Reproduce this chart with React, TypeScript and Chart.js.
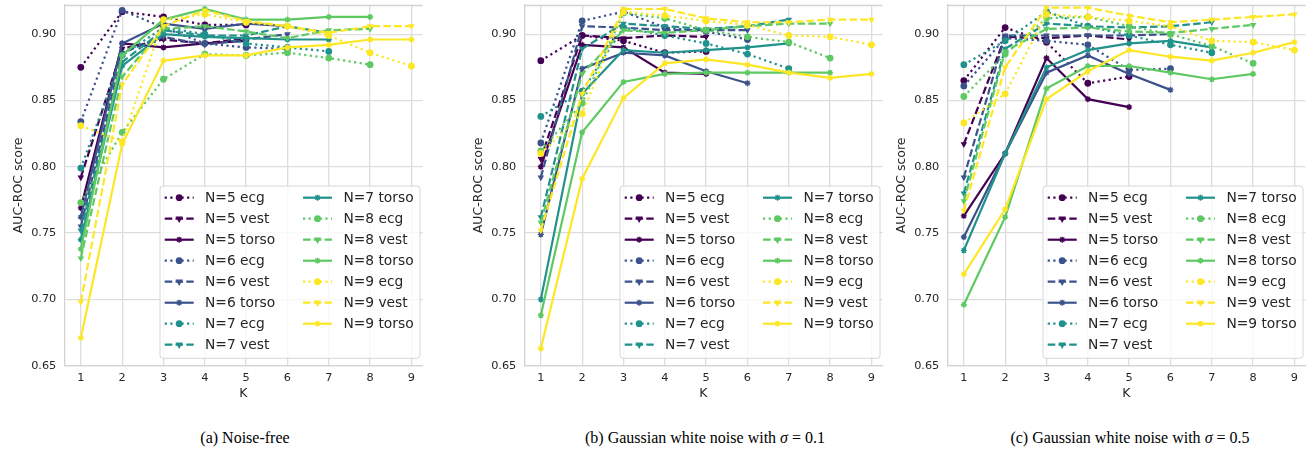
import React, { useEffect, useRef } from 'react';
import { Chart, registerables } from 'chart.js';

Chart.register(...registerables);

// ---------- data ----------
const K_VALUES = [1, 2, 3, 4, 5, 6, 7, 8, 9];
const X_TICKS = [1, 2, 3, 4, 5, 6, 7, 8, 9];
const Y_TICKS = [0.65, 0.7, 0.75, 0.8, 0.85, 0.9];
const N_VALUES = [5, 6, 7, 8, 9];
const SENSORS = ['ecg', 'vest', 'torso'];
const COLORS = ['#440154', '#3b528b', '#21918c', '#5ec962', '#fde725'];

// (a) Noise-free — one row per N (5..9), values for K = 1..N
const A_ECG = [
  [0.875, 0.917, 0.913, 0.907, 0.907],
  [0.834, 0.918, 0.905, 0.893, 0.890, 0.889],
  [0.799, 0.884, 0.905, 0.900, 0.893, 0.890, 0.887],
  [0.773, 0.826, 0.866, 0.885, 0.884, 0.886, 0.882, 0.877],
  [0.831, 0.819, 0.911, 0.915, 0.909, 0.906, 0.899, 0.886, 0.876],
];
const A_VEST = [
  [0.792, 0.889, 0.896, 0.893, 0.897],
  [0.755, 0.886, 0.898, 0.892, 0.896, 0.900],
  [0.752, 0.879, 0.903, 0.899, 0.899, 0.906, 0.901],
  [0.731, 0.868, 0.904, 0.906, 0.902, 0.897, 0.903, 0.904],
  [0.698, 0.862, 0.906, 0.918, 0.910, 0.906, 0.901, 0.906, 0.906],
];
const A_TORSO = [
  [0.769, 0.893, 0.890, 0.893, 0.895],
  [0.762, 0.893, 0.908, 0.904, 0.908, 0.906],
  [0.745, 0.876, 0.900, 0.898, 0.897, 0.896, 0.896],
  [0.738, 0.884, 0.911, 0.919, 0.911, 0.911, 0.913, 0.913],
  [0.671, 0.817, 0.880, 0.884, 0.884, 0.890, 0.892, 0.896, 0.896],
];

// (b) sigma = 0.1
const B_ECG = [
  [0.880, 0.899, 0.895, 0.886, 0.887],
  [0.818, 0.910, 0.917, 0.905, 0.902, 0.896],
  [0.838, 0.857, 0.905, 0.899, 0.893, 0.885, 0.874],
  [0.812, 0.848, 0.916, 0.912, 0.903, 0.898, 0.894, 0.882],
  [0.810, 0.840, 0.917, 0.914, 0.910, 0.907, 0.899, 0.898, 0.892],
];
const B_VEST = [
  [0.806, 0.899, 0.897, 0.899, 0.898],
  [0.792, 0.906, 0.905, 0.903, 0.903, 0.903],
  [0.762, 0.889, 0.908, 0.906, 0.904, 0.906, 0.911],
  [0.758, 0.870, 0.903, 0.901, 0.903, 0.906, 0.908, 0.908],
  [0.752, 0.855, 0.919, 0.919, 0.912, 0.909, 0.909, 0.911, 0.911],
];
const B_TORSO = [
  [0.800, 0.892, 0.890, 0.871, 0.870],
  [0.749, 0.874, 0.886, 0.884, 0.872, 0.863],
  [0.700, 0.855, 0.888, 0.886, 0.888, 0.890, 0.893],
  [0.688, 0.826, 0.864, 0.870, 0.871, 0.871, 0.871, 0.871],
  [0.663, 0.791, 0.852, 0.878, 0.881, 0.877, 0.871, 0.867, 0.870],
];

// (c) sigma = 0.5
const C_ECG = [
  [0.865, 0.905, 0.894, 0.863, 0.868],
  [0.861, 0.897, 0.895, 0.892, 0.873, 0.874],
  [0.877, 0.895, 0.917, 0.906, 0.899, 0.892, 0.886],
  [0.853, 0.885, 0.912, 0.913, 0.906, 0.900, 0.891, 0.878],
  [0.833, 0.855, 0.915, 0.913, 0.910, 0.906, 0.895, 0.894, 0.888],
];
const C_VEST = [
  [0.817, 0.898, 0.897, 0.899, 0.896],
  [0.792, 0.899, 0.899, 0.899, 0.899, 0.900],
  [0.780, 0.889, 0.908, 0.906, 0.905, 0.906, 0.909],
  [0.774, 0.887, 0.904, 0.905, 0.902, 0.901, 0.904, 0.907],
  [0.767, 0.875, 0.920, 0.920, 0.914, 0.909, 0.911, 0.913, 0.915],
];
const C_TORSO = [
  [0.763, 0.810, 0.882, 0.851, 0.845],
  [0.747, 0.810, 0.871, 0.884, 0.870, 0.858],
  [0.737, 0.810, 0.875, 0.888, 0.893, 0.895, 0.890],
  [0.696, 0.762, 0.859, 0.876, 0.876, 0.871, 0.866, 0.870],
  [0.719, 0.768, 0.851, 0.872, 0.888, 0.883, 0.880, 0.886, 0.894],
];

const CAPTIONS = [
  { text: '(a) Noise-free', sigma: null },
  { text: '(b) Gaussian white noise with ', sigma: '0.1' },
  { text: '(c) Gaussian white noise with ', sigma: '0.5' },
];

// ---------- layout ----------
const CW = 427; // Chart.js keeps ~5px on the right, so the plot ends at ~422
const CH = 410;
const AREA_LEFT = 64.3;
const AREA_TOP = 5;
const AREA_BOTTOM = 365.7;
const TEXT = '#262626';
const GRID = '#dddddd';
const SPINE = '#d2d2d2';
const FONT = "'DejaVu Sans', sans-serif";

const DASHES: Record<string, number[]> = {
  ecg: [2.2, 3.4],
  vest: [7.6, 3.2],
  torso: [],
};

function drawMarker(ctx: CanvasRenderingContext2D, sensor: string, x: number, y: number, color: string) {
  ctx.save();
  ctx.setLineDash([]);
  ctx.fillStyle = color;
  ctx.strokeStyle = color;
  if (sensor === 'ecg') {
    ctx.beginPath();
    ctx.arc(x, y, 3.4, 0, Math.PI * 2);
    ctx.fill();
  } else if (sensor === 'vest') {
    const r = 4.2;
    ctx.beginPath();
    ctx.moveTo(x, y + r);
    ctx.lineTo(x - r * 0.866, y - r * 0.5);
    ctx.lineTo(x + r * 0.866, y - r * 0.5);
    ctx.closePath();
    ctx.fill();
  } else {
    const r = 3;
    ctx.lineWidth = 1.4;
    ctx.beginPath();
    ctx.moveTo(x - r, y); ctx.lineTo(x + r, y);
    ctx.moveTo(x, y - r); ctx.lineTo(x, y + r);
    const d = r * 0.707;
    ctx.moveTo(x - d, y - d); ctx.lineTo(x + d, y + d);
    ctx.moveTo(x - d, y + d); ctx.lineTo(x + d, y - d);
    ctx.stroke();
  }
  ctx.restore();
}

const framePlugin = {
  id: 'frameTop',
  beforeDatasetsDraw(chart: any) {
    const { ctx, chartArea } = chart;
    ctx.save();
    ctx.strokeStyle = SPINE;
    ctx.lineWidth = 1.3;
    ctx.beginPath();
    ctx.moveTo(chartArea.left, chartArea.top + 0.5);
    ctx.lineTo(chartArea.right, chartArea.top + 0.5);
    ctx.stroke();
    ctx.restore();
  },
};

const legendPlugin = {
  id: 'mplLegend',
  afterDatasetsDraw(chart: any) {
    const { ctx, chartArea } = chart;
    const boxW = 260;
    const boxH = 172.3;
    const right = chartArea.right - 2.6;
    const bottom = chartArea.bottom - 7.4;
    const left = right - boxW;
    const top = bottom - boxH;
    ctx.save();
    const rr = 3;
    ctx.beginPath();
    ctx.moveTo(left + rr, top);
    ctx.lineTo(right - rr, top);
    ctx.arcTo(right, top, right, top + rr, rr);
    ctx.lineTo(right, bottom - rr);
    ctx.arcTo(right, bottom, right - rr, bottom, rr);
    ctx.lineTo(left + rr, bottom);
    ctx.arcTo(left, bottom, left, bottom - rr, rr);
    ctx.lineTo(left, top + rr);
    ctx.arcTo(left, top, left + rr, top, rr);
    ctx.closePath();
    ctx.fillStyle = 'rgba(255,255,255,0.8)';
    ctx.fill();
    ctx.strokeStyle = '#d6d6d6';
    ctx.lineWidth = 1;
    ctx.stroke();

    chart.data.datasets.forEach((ds: any, i: number) => {
      const col = i < 8 ? 0 : 1;
      const row = i < 8 ? i : i - 8;
      const cy = top + 11.7 + row * 21;
      const hx0 = left + (col ? 143 : 4.7);
      const hx1 = hx0 + 29;
      const tx = left + (col ? 183.4 : 45);
      ctx.save();
      ctx.strokeStyle = ds.borderColor;
      ctx.lineWidth = 2.2;
      ctx.setLineDash(DASHES[ds.sensor]);
      ctx.beginPath();
      ctx.moveTo(hx0, cy);
      ctx.lineTo(hx1, cy);
      ctx.stroke();
      ctx.restore();
      drawMarker(ctx, ds.sensor, (hx0 + hx1) / 2, cy, ds.borderColor);
      ctx.fillStyle = TEXT;
      ctx.font = `13.8px ${FONT}`;
      ctx.textBaseline = 'middle';
      ctx.textAlign = 'left';
      ctx.fillText(ds.label, tx, cy + 0.5);
    });
    ctx.restore();
  },
};

function PanelChart({ ecg, vest, torso, left }: { ecg: number[][]; vest: number[][]; torso: number[][]; left: number }) {
  const ref = useRef<HTMLCanvasElement>(null);
  useEffect(() => {
    const groups: Record<string, number[][]> = { ecg, vest, torso };
    const datasets: any[] = [];
    N_VALUES.forEach((n, ni) => {
      SENSORS.forEach((s) => {
        const vals = groups[s][ni];
        const color = COLORS[ni];
        const idx = datasets.length;
        datasets.push({
          label: `N=${n} ${s}`,
          sensor: s,
          data: vals.map((v, j) => ({ x: K_VALUES[j], y: v })),
          borderColor: color,
          backgroundColor: color,
          borderWidth: 2.2,
          borderDash: DASHES[s],
          borderCapStyle: 'butt',
          tension: 0,
          fill: false,
          pointStyle: s === 'ecg' ? 'circle' : s === 'vest' ? 'triangle' : 'star',
          pointRotation: s === 'vest' ? 180 : 0,
          pointRadius: s === 'ecg' ? 3.4 : s === 'vest' ? 3.8 : 3,
          pointBorderWidth: s === 'torso' ? 1.4 : 0,
          pointBorderColor: color,
          pointBackgroundColor: color,
          pointHoverRadius: 3,
          order: 20 - idx,
        });
      });
    });

    const chart = new Chart(ref.current as HTMLCanvasElement, {
      type: 'line',
      data: { datasets },
      options: {
        animation: false,
        responsive: false,
        devicePixelRatio: 1,
        layout: { padding: { top: AREA_TOP, left: 0, right: 0, bottom: 0 } },
        plugins: { legend: { display: false }, tooltip: { enabled: false } },
        scales: {
          x: {
            type: 'linear',
            min: 0.6,
            max: 9.27,
            afterBuildTicks: (scale: any) => {
              scale.ticks = X_TICKS.map((v) => ({ value: v }));
            },
            afterFit: (scale: any) => {
              scale.height = CH - AREA_BOTTOM;
              scale.paddingLeft = 0;
              scale.paddingRight = 0;
              scale.paddingTop = 0;
              scale.paddingBottom = 0;
            },
            grid: { color: GRID, lineWidth: 1.3, drawTicks: false },
            border: { display: true, color: SPINE, width: 1.3 },
            ticks: {
              padding: 6,
              color: TEXT,
              font: { family: FONT, size: 11.3 },
              maxRotation: 0,
              autoSkip: false,
              callback: (v: any) => String(v),
            },
            title: {
              display: true,
              text: 'K',
              color: TEXT,
              font: { family: FONT, size: 12.5 },
              padding: { top: 0, bottom: 8.5 },
            },
          },
          y: {
            type: 'linear',
            min: 0.65,
            max: 0.922,
            afterBuildTicks: (scale: any) => {
              scale.ticks = Y_TICKS.map((v) => ({ value: v }));
            },
            afterFit: (scale: any) => {
              scale.width = AREA_LEFT;
              scale.paddingLeft = 0;
              scale.paddingRight = 0;
              scale.paddingTop = 0;
              scale.paddingBottom = 0;
            },
            grid: { color: GRID, lineWidth: 1.3, drawTicks: false },
            border: { display: true, color: SPINE, width: 1.3 },
            ticks: {
              padding: 8,
              color: TEXT,
              font: { family: FONT, size: 11.3 },
              autoSkip: false,
              callback: (v: any) => Number(v).toFixed(2),
            },
            title: {
              display: true,
              text: 'AUC-ROC score',
              color: TEXT,
              font: { family: FONT, size: 12.5 },
              padding: { top: 11.7, bottom: 0 },
            },
          },
        },
      } as any,
      plugins: [framePlugin, legendPlugin],
    });
    return () => chart.destroy();
  }, [ecg, vest, torso]);

  return (
    <canvas
      ref={ref}
      width={CW}
      height={CH}
      style={{ position: 'absolute', left, top: 0, width: CW, height: CH }}
    />
  );
}

const PANEL_LEFTS = [0, 460, 883.4];
const CAPTION_CENTERS = [245, 705, 1130];

export default function App() {
  return (
    <div
      style={{
        position: 'absolute',
        left: 0,
        top: 0,
        width: 1314,
        height: 455,
        background: '#ffffff',
        overflow: 'hidden',
      }}
    >
      <PanelChart ecg={A_ECG} vest={A_VEST} torso={A_TORSO} left={PANEL_LEFTS[0]} />
      <PanelChart ecg={B_ECG} vest={B_VEST} torso={B_TORSO} left={PANEL_LEFTS[1]} />
      <PanelChart ecg={C_ECG} vest={C_VEST} torso={C_TORSO} left={PANEL_LEFTS[2]} />
      {CAPTIONS.map((c, i) => (
        <div
          key={i}
          style={{
            position: 'absolute',
            left: CAPTION_CENTERS[i] - 250,
            width: 500,
            top: 428,
            textAlign: 'center',
            fontFamily: "'Liberation Serif', 'Times New Roman', serif",
            fontSize: 16,
            color: '#000',
            lineHeight: '20px',
            whiteSpace: 'nowrap',
          }}
        >
          {c.text}
          {c.sigma !== null && (
            <>
              <i>σ</i> = {c.sigma}
            </>
          )}
        </div>
      ))}
    </div>
  );
}
